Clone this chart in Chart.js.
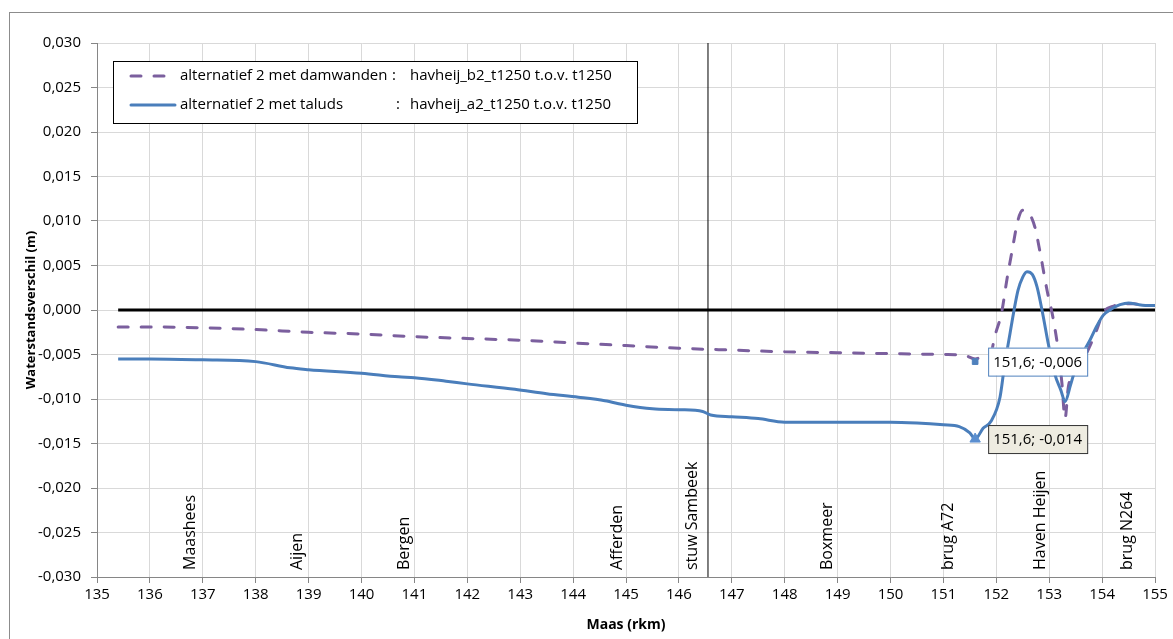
<!DOCTYPE html>
<html>
<head>
<meta charset="utf-8">
<script src="https://cdn.jsdelivr.net/npm/chart.js@4.4.1/dist/chart.umd.min.js"></script>
<style>
    html, body { margin: 0; padding: 0; background: #fff; }
    #wrap { position: relative; width: 1173px; height: 639px; overflow: hidden; }
    #frame { position: absolute; left: 9px; top: 12px; width: 1200px; height: 700px; border: 1px solid #8c8c8c; pointer-events: none; }
</style>
</head>
<body>
<div id="wrap">
    <canvas id="chart" width="1173" height="639"></canvas>
    <div id="frame"></div>
</div>
<script>
// alternatief 2 met damwanden (dashed)
const kmDamwanden = [135.4, 136, 137, 138, 139, 140, 141, 142, 143, 144, 145, 146, 147, 148, 149, 150, 151, 151.4, 151.6,
    151.75, 151.9, 151.97, 152.1, 152.2, 152.3, 152.41, 152.5, 152.58, 152.73, 152.83, 152.96, 153.07, 153.17, 153.24,
    153.3, 153.36, 153.5, 153.71, 153.9, 154.02, 154.2, 154.4, 154.6, 154.8, 155];
const valDamwanden = [-0.0019, -0.0019, -0.0020, -0.0022, -0.0025, -0.0027, -0.0030, -0.0032, -0.0034, -0.0037, -0.0040,
    -0.0043, -0.0045, -0.0047, -0.0048, -0.0049, -0.0050, -0.0051, -0.0055,
    -0.0052, -0.0048, -0.0030, -0.0003, 0.0034, 0.0067, 0.0101, 0.0112, 0.0111, 0.0093, 0.0064, 0.0022, -0.0008, -0.0045,
    -0.0082, -0.0122, -0.0087, -0.0068, -0.0048, -0.0022, -0.0003, 0.0004, 0.0007, 0.0007, 0.0005, 0.0005];

// alternatief 2 met taluds (solid)
const kmTaluds = [135.4, 136, 137, 138, 138.65, 139, 140, 140.7, 141, 141.6, 142, 142.9, 143.5, 144.1, 144.6, 145, 145.5,
    146, 146.45, 146.6, 147, 147.5, 148, 149, 150, 150.5, 151, 151.3, 151.5, 151.6,
    151.75, 151.9, 152.07, 152.15, 152.26, 152.41, 152.5, 152.58, 152.68, 152.77, 152.88, 152.98, 153.11, 153.22, 153.3,
    153.4, 153.49, 153.6, 153.77, 153.9, 154.02, 154.2, 154.34, 154.5, 154.7, 154.9, 155];
const valTaluds = [-0.0055, -0.0055, -0.0056, -0.0058, -0.0065, -0.0067, -0.0071, -0.0075, -0.0076, -0.0080, -0.0083,
    -0.0089, -0.0094, -0.0098, -0.0102, -0.0107, -0.0111, -0.0112, -0.0114, -0.0118, -0.0120, -0.0122, -0.0126, -0.0126,
    -0.0126, -0.0127, -0.0129, -0.0131, -0.0138, -0.0145,
    -0.0133, -0.0125, -0.0098, -0.0065, -0.0026, 0.0022, 0.0037, 0.0043, 0.0040, 0.0026, -0.0005, -0.0037, -0.0073,
    -0.0090, -0.0103, -0.0085, -0.0067, -0.0052, -0.0034, -0.0018, -0.0006, 0.0002, 0.0006, 0.0008, 0.0006, 0.0005, 0.0005];

// reference lines
const kmZero = [135.4, 155];
const valZero = [0, 0];
const kmStuw = [146.55, 146.55];
const valStuw = [-0.03, 0.03];

// highlighted points + their labels
const markKm = [151.6, 151.6];
const markVal = [-0.0058, -0.0145];
const markLabels = ['151,6; -0,006', '151,6; -0,014'];

// place names along the river
const placeNames = ['Maashees', 'Aijen', 'Bergen', 'Afferden', 'stuw Sambeek', 'Boxmeer', 'brug A72', 'Haven Heijen', 'brug N264'];
const placeKm = [136.76, 138.78, 140.82, 144.83, 146.25, 148.8, 151.1, 152.83, 154.47];

const legendLabels = ['alternatief 2 met damwanden', 'alternatief 2 met taluds'];
const legendRuns = ['havheij_b2_t1250 t.o.v. t1250', 'havheij_a2_t1250 t.o.v. t1250'];

const FONT = '"Open Sans", sans-serif';
const PURPLE = '#7b5f9e';
const BLUE = '#4a7ebb';

const pts = (xs, ys) => xs.map((x, i) => ({ x, y: ys[i] }));
const fmt = v => {
    const r = Math.round(v * 1000) / 1000;
    return (r === 0 ? 0 : r).toFixed(3).replace('.', ',');
};

const overlay = {
    id: 'overlay',
    afterDatasetsDraw(chart) {
        const { ctx, scales: { x, y }, chartArea } = chart;
        ctx.save();

        // place names, rotated
        ctx.font = '16px ' + FONT;
        ctx.fillStyle = '#000';
        ctx.textBaseline = 'middle';
        ctx.textAlign = 'left';
        placeNames.forEach((name, i) => {
            ctx.save();
            ctx.translate(x.getPixelForValue(placeKm[i]), chartArea.bottom - 7);
            ctx.rotate(-Math.PI / 2);
            ctx.fillText(name, 0, 0);
            ctx.restore();
        });

        // data labels
        const styles = [
            { fill: '#ffffff', stroke: '#4f81bd' },
            { fill: '#eeece1', stroke: '#333333' }
        ];
        ctx.font = '15px ' + FONT;
        markLabels.forEach((txt, i) => {
            const px = x.getPixelForValue(markKm[i]) + 13;
            const py = y.getPixelForValue(markVal[i]);
            const w = ctx.measureText(txt).width + 10;
            const h = 28;
            ctx.fillStyle = styles[i].fill;
            ctx.strokeStyle = styles[i].stroke;
            ctx.lineWidth = 1;
            ctx.fillRect(px, py - h / 2, w, h);
            ctx.strokeRect(px + 0.5, py - h / 2 + 0.5, w, h);
            ctx.fillStyle = '#000';
            ctx.fillText(txt, px + 5, py + 1);
        });

        // legend
        const lx = 113, ly = 61, lw = 524, lh = 62;
        ctx.fillStyle = '#fff';
        ctx.fillRect(lx, ly, lw, lh);
        ctx.strokeStyle = '#000';
        ctx.lineWidth = 1;
        ctx.strokeRect(lx + 0.5, ly + 0.5, lw, lh);
        const rows = [76, 105];
        const colors = [PURPLE, BLUE];
        rows.forEach((ry, i) => {
            ctx.beginPath();
            ctx.strokeStyle = colors[i];
            ctx.lineWidth = 3;
            ctx.lineCap = 'round';
            ctx.setLineDash(i === 0 ? [10, 13] : []);
            ctx.moveTo(131, ry);
            ctx.lineTo(175, ry);
            ctx.stroke();
            ctx.setLineDash([]);
            ctx.fillStyle = '#000';
            ctx.font = '15px ' + FONT;
            ctx.fillText(legendLabels[i], 180, ry);
            ctx.fillText(':', i === 0 ? 392 : 396, ry);
            ctx.fillText(legendRuns[i], 410, ry);
        });

        // axis titles
        ctx.font = 'bold 14px ' + FONT;
        ctx.textAlign = 'center';
        ctx.fillText('Maas (rkm)', (chartArea.left + chartArea.right) / 2, 625);
        ctx.font = 'bold 13px ' + FONT;
        ctx.save();
        ctx.translate(31, (chartArea.top + chartArea.bottom) / 2);
        ctx.rotate(-Math.PI / 2);
        ctx.fillText('Waterstandsverschil (m)', 0, 0);
        ctx.restore();

        ctx.restore();
    }
};

new Chart(document.getElementById('chart'), {
    type: 'line',
    data: {
        datasets: [
            {
                data: pts(markKm.slice(0, 1), markVal.slice(0, 1)),
                showLine: false, pointStyle: 'rect', pointRadius: 4,
                pointBackgroundColor: '#4f81bd', pointBorderColor: '#4f81bd', order: 0
            },
            {
                data: pts(markKm.slice(1), markVal.slice(1)),
                showLine: false, pointStyle: 'triangle', pointRadius: 6,
                pointBackgroundColor: '#5b8fd0', pointBorderColor: '#5b8fd0', order: 0
            },
            {
                data: pts(kmDamwanden, valDamwanden),
                borderColor: PURPLE, borderWidth: 3, borderDash: [10, 13], borderCapStyle: 'round',
                pointRadius: 0, cubicInterpolationMode: 'monotone', order: 2
            },
            {
                data: pts(kmTaluds, valTaluds),
                borderColor: BLUE, borderWidth: 3, pointRadius: 0,
                cubicInterpolationMode: 'monotone', order: 1
            },
            {
                data: pts(kmZero, valZero),
                borderColor: '#000', borderWidth: 3, pointRadius: 0, order: 3
            },
            {
                data: pts(kmStuw, valStuw),
                borderColor: '#000', borderWidth: 1, pointRadius: 0, order: 4
            }
        ]
    },
    options: {
        responsive: false,
        animation: false,
        devicePixelRatio: 1,
        layout: { padding: { left: 0, top: 43, right: 18, bottom: 0 } },
        plugins: { legend: { display: false }, tooltip: { enabled: false } },
        scales: {
            x: {
                type: 'linear', min: 135, max: 155,
                afterFit: s => { s.height = 62; },
                grid: { color: '#d9d9d9', tickLength: 6, tickColor: '#868686' },
                border: { color: '#868686' },
                ticks: { stepSize: 1, padding: 3, color: '#000', font: { family: FONT, size: 15 }, maxRotation: 0 }
            },
            y: {
                min: -0.03, max: 0.03,
                afterFit: s => { s.width = 97; },
                grid: { color: '#d9d9d9', tickLength: 6, tickColor: '#868686' },
                border: { color: '#868686' },
                ticks: { stepSize: 0.005, padding: 10, color: '#000', font: { family: FONT, size: 15 }, callback: v => fmt(v) }
            }
        }
    },
    plugins: [overlay]
});
</script>
</body>
</html>
